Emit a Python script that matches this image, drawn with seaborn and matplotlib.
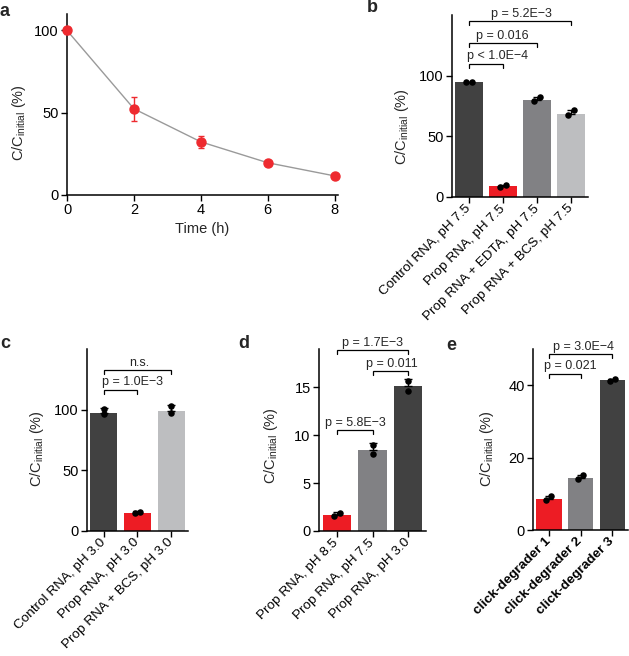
import matplotlib
matplotlib.use('Agg')
import matplotlib.pyplot as plt
import seaborn as sns
import numpy as np
import pandas as pd

sns.set_theme(style='ticks')
plt.rcParams['font.family'] = ['Liberation Sans', 'DejaVu Sans']
plt.rcParams['mathtext.fontset'] = 'custom'
plt.rcParams['mathtext.rm'] = 'Liberation Sans'
plt.rcParams['mathtext.it'] = 'Liberation Sans:italic'
plt.rcParams['mathtext.bf'] = 'Liberation Sans:bold'

# ---------------- data ----------------
time_h = [0, 2, 4, 6, 8]
decay_mean = [100.0, 52.4, 32.3, 19.6, 11.6]
decay_err = [2.0, 7.3, 3.7, 1.0, 0.8]

b_cats = ['Control RNA, pH 7.5', 'Prop RNA, pH 7.5', 'Prop RNA + EDTA, pH 7.5', 'Prop RNA + BCS, pH 7.5']
b_mean = [94.5, 9.0, 80.1, 68.6]
b_err = [0.5, 0.7, 2.7, 3.5]
b_rep1 = [94.5, 8.5, 79.0, 67.8]
b_rep2 = [94.6, 9.5, 82.2, 71.3]
b_pairs = [(0, 1), (0, 2), (0, 3)]
b_pvals = ['p < 1.0E\u22124', 'p = 0.016', 'p = 5.2E\u22123']
b_py = [110, 127, 145]

c_cats = ['Control RNA, pH 3.0', 'Prop RNA, pH 3.0', 'Prop RNA + BCS, pH 3.0']
c_mean = [97.5, 15.1, 98.6]
c_err = [3.5, 1.3, 5.5]
c_rep1 = [96.8, 14.6, 97.5]
c_rep2 = [100.5, 16.0, 102.7]
c_pairs = [(0, 1), (0, 2)]
c_pvals = ['p = 1.0E\u22123', 'n.s.']
c_py = [116.5, 132.4]

d_cats = ['Prop RNA, pH 8.5', 'Prop RNA, pH 7.5', 'Prop RNA, pH 3.0']
d_mean = [1.7, 8.5, 15.1]
d_err = [0.25, 0.7, 0.8]
d_rep1 = [1.55, 8.0, 14.65]
d_rep2 = [1.9, 9.0, 15.65]
d_pairs = [(0, 1), (1, 2), (0, 2)]
d_pvals = ['p = 5.8E\u22123', 'p = 0.011', 'p = 1.7E\u22123']
d_py = [10.5, 16.7, 18.85]

e_cats = ['click-degrader 1', 'click-degrader 2', 'click-degrader 3']
e_mean = [8.6, 14.3, 41.3]
e_err = [0.9, 1.0, 0.3]
e_rep1 = [8.3, 14.0, 41.1]
e_rep2 = [9.4, 15.1, 41.6]
e_pairs = [(0, 1), (0, 2)]
e_pvals = ['p = 0.021', 'p = 3.0E\u22124']
e_py = [43.2, 48.6]

# ---------------- style ----------------
RED = '#ED1C24'
DARK = '#414141'
MID = '#818184'
LIGHT = '#BDBEC0'
YLAB = 'C/C$_{\\rm initial}$ (%)'
W, H = 629, 656

fig = plt.figure(figsize=(W / 100, H / 100), dpi=100)


def add_ax(left, right, bottom, top):
    return fig.add_axes([left / W, 1 - bottom / H, (right - left) / W, (bottom - top) / H])


def style(ax):
    sns.despine(ax=ax)
    for s in ['left', 'bottom']:
        ax.spines[s].set_linewidth(1.1)
        ax.spines[s].set_color('black')
    ax.tick_params(length=4, width=1, labelsize=10.5, pad=2, color='black', labelcolor='black')
    ax.set_facecolor('none')


# ---------------- panel a ----------------
axa = add_ax(67, 338, 195, 14)
sns.lineplot(x=time_h, y=decay_mean, color='#9a9a9a', lw=1, ax=axa, zorder=1)
axa.errorbar(time_h, decay_mean, yerr=decay_err, fmt='o', color='#EE2A2F', ms=6.5,
             ecolor='#EE2A2F', elinewidth=1, capsize=2, capthick=1, clip_on=False, zorder=3)
axa.set_xlim(0, 8.1)
axa.set_ylim(0, 110)
axa.set_xticks([0, 2, 4, 6, 8])
axa.set_yticks([0, 50, 100])
style(axa)
axa.set_xlabel('Time (h)', fontsize=10.5, labelpad=3)
axa.set_ylabel(YLAB, fontsize=10.5)
axa.yaxis.set_label_coords(-0.145, 0.40)


# ---------------- bar panels ----------------
def bar_panel(ax, cats, mean, err, rep1, rep2, offs, colors, ylim, yticks,
              pairs, pvals, py, ptx, ylab_xy, bold=False):
    df = pd.DataFrame({'cat': cats, 'val': mean})
    sns.barplot(data=df, x='cat', y='val', hue='cat', palette=colors, legend=False,
                width=0.8, saturation=1, ax=ax, linewidth=0, errorbar=None)
    pos = np.arange(len(cats))
    ax.errorbar(pos, mean, yerr=[np.zeros(len(mean)), err], fmt='none', ecolor='black',
                elinewidth=1, capsize=3, capthick=1, zorder=3)
    offs = np.array(offs)
    ax.scatter(pos - offs, rep1, s=22, color='black', zorder=4, linewidths=0)
    ax.scatter(pos + offs, rep2, s=22, color='black', zorder=4, linewidths=0)
    ax.set_xlim(-0.5, len(cats) - 0.5)
    ax.set_ylim(*ylim)
    ax.set_yticks(yticks)
    style(ax)
    ax.set_xticks(pos)
    ax.set_xticklabels(cats, rotation=45, ha='right', va='center', rotation_mode='anchor',
                       fontsize=9.7, fontweight='bold' if bold else 'normal')
    ax.tick_params(axis='x', pad=3)
    ax.set_xlabel('')
    ax.set_ylabel(YLAB, fontsize=10.5)
    ax.yaxis.set_label_coords(*ylab_xy)
    drop = 0.022 * (ylim[1] - ylim[0])
    for (i, j), txt, y, tx in zip(pairs, pvals, py, ptx):
        ax.plot([i, i, j, j], [y - drop, y, y, y - drop], color='black', lw=0.9,
                clip_on=False, solid_joinstyle='miter')
        ax.annotate(txt, xy=(tx, y), xytext=(0, 3), textcoords='offset points',
                    ha='center', va='baseline', fontsize=9, annotation_clip=False)


axb = add_ax(452, 588, 197, 15)
bar_panel(axb, b_cats, b_mean, b_err, b_rep1, b_rep2, [0.08, 0.08, 0.08, 0.08],
          [DARK, RED, MID, LIGHT], (0, 150), [0, 50, 100],
          b_pairs, b_pvals, b_py, [0.84, 0.97, 1.55], (-0.30, 0.39))

axc = add_ax(87, 188, 531, 349)
bar_panel(axc, c_cats, c_mean, c_err, c_rep1, c_rep2, [0.0, 0.08, 0.0],
          [DARK, RED, LIGHT], (0, 150), [0, 50, 100],
          c_pairs, c_pvals, c_py, [0.84, 1.04], (-0.41, 0.455))

axd = add_ax(319, 426, 531, 349)
bar_panel(axd, d_cats, d_mean, d_err, d_rep1, d_rep2, [0.08, 0.0, 0.0],
          [RED, MID, DARK], (0, 19), [0, 5, 10, 15],
          d_pairs, d_pvals, d_py, [0.53, 1.54, 1.0], (-0.36, 0.468))

axe = add_ax(533, 628, 530, 349)
bar_panel(axe, e_cats, e_mean, e_err, e_rep1, e_rep2, [0.08, 0.08, 0.08],
          [RED, MID, DARK], (0, 50), [0, 20, 40],
          e_pairs, e_pvals, e_py, [0.67, 1.09], (-0.39, 0.448), bold=True)

# panel letters
for lab, x, y in [('a', 4, 11), ('b', 372, 8), ('c', 5, 344), ('d', 244, 344), ('e', 451, 345)]:
    fig.text(x / W, 1 - y / H, lab, fontsize=13, fontweight='bold', ha='center', va='center')

fig.savefig('out.png', dpi=100)
